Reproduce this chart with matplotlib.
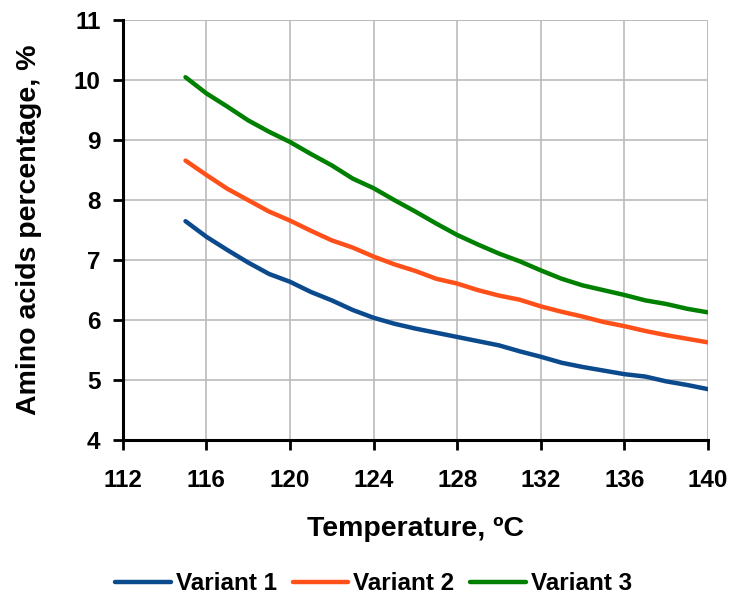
import numpy as np
import matplotlib.pyplot as plt

plt.rcParams['font.family'] = ['Liberation Sans', 'DejaVu Sans']
plt.rcParams['font.weight'] = 'bold'

temperature = [115, 116, 117, 118, 119, 120, 121, 122, 123, 124, 125, 126, 127,
               128, 129, 130, 131, 132, 133, 134, 135, 136, 137, 138, 139, 140]
variant1 = [7.65, 7.39, 7.17, 6.96, 6.77, 6.64, 6.47, 6.33, 6.17, 6.04, 5.94, 5.86, 5.79,
            5.72, 5.65, 5.58, 5.48, 5.39, 5.29, 5.22, 5.16, 5.10, 5.06, 4.98, 4.92, 4.85]
variant2 = [8.66, 8.42, 8.19, 8.00, 7.81, 7.66, 7.49, 7.33, 7.21, 7.06, 6.93, 6.82, 6.69,
            6.61, 6.50, 6.41, 6.34, 6.23, 6.14, 6.06, 5.97, 5.90, 5.82, 5.75, 5.69, 5.63]
variant3 = [10.05, 9.78, 9.56, 9.33, 9.14, 8.97, 8.77, 8.58, 8.36, 8.20, 8.00, 7.81, 7.61,
            7.42, 7.26, 7.11, 6.98, 6.83, 6.69, 6.58, 6.50, 6.42, 6.33, 6.27, 6.19, 6.13]

fig = plt.figure(figsize=(7.31, 5.94), dpi=100)
ax = fig.add_axes([0.168, 0.259, 0.8005, 0.707])

ax.plot(temperature, variant1, color='#0B4A8C', lw=3.2, label='Variant 1', solid_capstyle='round')
ax.plot(temperature, variant2, color='#FF5019', lw=3.2, label='Variant 2', solid_capstyle='round')
ax.plot(temperature, variant3, color='#008000', lw=3.2, label='Variant 3', solid_capstyle='round')

ax.set_xlim(112, 140)
ax.set_ylim(4, 11)
ax.set_xticks(np.arange(112, 141, 4))
ax.set_yticks(np.arange(4, 12, 1))
ax.grid(True, color='#BBBBBB', lw=1.2)
ax.set_axisbelow(True)

for s in ['top', 'right']:
    ax.spines[s].set_visible(False)
for s in ['left', 'bottom']:
    ax.spines[s].set_linewidth(2.2)
ax.tick_params(axis='both', direction='out', length=7, width=2, labelsize=17.5)
ax.tick_params(axis='y', pad=9)
ax.tick_params(axis='x', pad=14)

# right and top gridlines stand in for the frame
ax.axvline(140, color='#BBBBBB', lw=1.2, zorder=0)
ax.axhline(11, color='#BBBBBB', lw=1.2, zorder=0)

ax.set_xlabel('Temperature, ºC', fontsize=20.5, fontweight='bold', labelpad=17)
ax.set_ylabel('Amino acids percentage, %', fontsize=20.5, fontweight='bold', labelpad=23)

fig.legend(loc='center', bbox_to_anchor=(0.511, 0.017), ncol=3, frameon=False,
           fontsize=17.5, handlelength=2.3, columnspacing=0.65, handletextpad=0.2,
           borderpad=0, borderaxespad=0)

plt.savefig("out.png", dpi=100)
plt.close()
